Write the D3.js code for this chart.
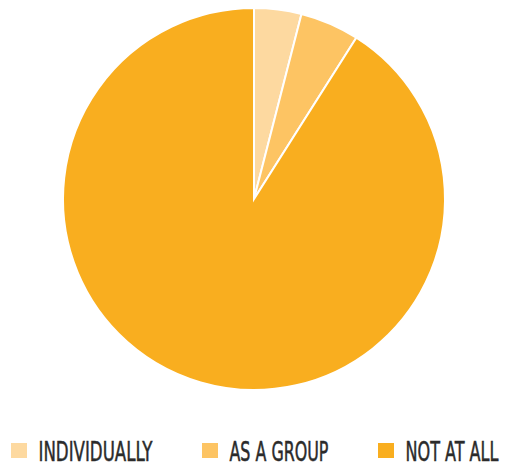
<!DOCTYPE html>
<html>
<head>
<meta charset="utf-8">
<script src="https://cdn.jsdelivr.net/npm/d3@7"></script>
<style>
  html, body { margin: 0; padding: 0; background: #fff; }
  svg { display: block; }
  .legend-label {
    font-family: "Liberation Sans Narrow", "DejaVu Sans Condensed", sans-serif;
    font-size: 27px;
    fill: #2b2b2b;
    stroke: #2b2b2b;
    stroke-width: 0.5px;
  }
</style>
</head>
<body>
<div id="chart"></div>
<script>
const categories = ['INDIVIDUALLY', 'AS A GROUP', 'NOT AT ALL'];
const shares = [4, 5, 91];
const colors = ['#fdd9a0', '#fdc463', '#f9ae1f'];

const width = 505;
const height = 466;
const center = { x: 254, y: 199 };
const radius = 191;

const svg = d3.select('#chart').append('svg')
  .attr('width', width)
  .attr('height', height);

const data = categories.map((name, i) => ({ name, value: shares[i], color: colors[i] }));

const pie = d3.pie().value(d => d.value).sort(null);
const arc = d3.arc().innerRadius(0).outerRadius(radius);

svg.append('g')
  .attr('transform', `translate(${center.x},${center.y})`)
  .selectAll('path')
  .data(pie(data))
  .join('path')
  .attr('d', arc)
  .attr('fill', d => d.data.color)
  .attr('stroke', '#fff')
  .attr('stroke-width', 2);

// legend along the bottom
const legendX = d3.scaleOrdinal().domain(categories).range([11, 202, 378]);
const labelWidths = [114, 99, 93];

const item = svg.append('g')
  .selectAll('g')
  .data(data)
  .join('g')
  .attr('transform', d => `translate(${legendX(d.name)},443)`);

item.append('rect')
  .attr('width', 16)
  .attr('height', 15)
  .attr('fill', d => d.color);

// squeeze each label horizontally to the condensed look of the original
item.append('text')
  .attr('class', 'legend-label')
  .text(d => d.name)
  .each(function (d, i) {
    const natural = this.getComputedTextLength();
    const sx = labelWidths[i] / natural;
    d3.select(this).attr('transform', `translate(27.5,18) scale(${sx},1)`);
  });
</script>
</body>
</html>
